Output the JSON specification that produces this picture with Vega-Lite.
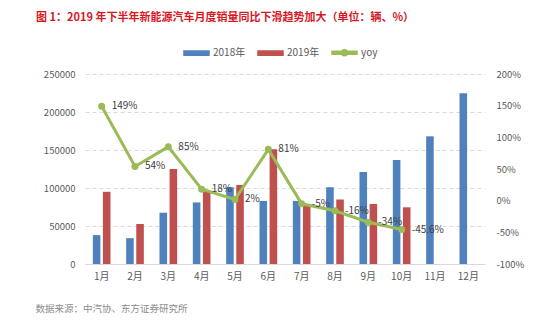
{
  "$schema": "https://vega.github.io/schema/vega-lite/v6.json",
  "width": 400,
  "height": 190,
  "autosize": {"type": "none"},
  "padding": {"left": 85, "top": 74, "right": 65, "bottom": 62},
  "background": "white",
  "config": {
    "font": "Noto Sans CJK SC",
    "locale": {"number": {"decimal": ".", "thousands": ",", "grouping": [3], "currency": ["", ""], "minus": "-"}},
    "view": {"stroke": null},
    "axis": {"labelColor": "#595959", "labelFontSize": 9.5, "ticks": false, "domain": false, "labelFont": "Noto Sans CJK SC"}
  },
  "title": {
    "text": "图 1：2019 年下半年新能源汽车月度销量同比下滑趋势加大（单位：辆、%）",
    "anchor": "start",
    "frame": "group",
    "dx": -49,
    "offset": 16,
    "color": "#D7181F",
    "fontSize": 11,
    "fontWeight": "bold",
    "font": "Noto Sans CJK SC"
  },
  "datasets": {
    "sales": [
      {"month": "1月", "series": "2018年", "sales": 38000},
      {"month": "1月", "series": "2019年", "sales": 95000},
      {"month": "2月", "series": "2018年", "sales": 34000},
      {"month": "2月", "series": "2019年", "sales": 52600},
      {"month": "3月", "series": "2018年", "sales": 67500},
      {"month": "3月", "series": "2019年", "sales": 125000},
      {"month": "4月", "series": "2018年", "sales": 81000},
      {"month": "4月", "series": "2019年", "sales": 96000},
      {"month": "5月", "series": "2018年", "sales": 101000},
      {"month": "5月", "series": "2019年", "sales": 104000},
      {"month": "6月", "series": "2018年", "sales": 83000},
      {"month": "6月", "series": "2019年", "sales": 151000},
      {"month": "7月", "series": "2018年", "sales": 83000},
      {"month": "7月", "series": "2019年", "sales": 79000},
      {"month": "8月", "series": "2018年", "sales": 101000},
      {"month": "8月", "series": "2019年", "sales": 85000},
      {"month": "9月", "series": "2018年", "sales": 121000},
      {"month": "9月", "series": "2019年", "sales": 79000},
      {"month": "10月", "series": "2018年", "sales": 137000},
      {"month": "10月", "series": "2019年", "sales": 74600},
      {"month": "11月", "series": "2018年", "sales": 168000},
      {"month": "12月", "series": "2018年", "sales": 224600}
    ],
    "yoy": [
      {"month": "1月", "series": "yoy", "yoy": 1.49},
      {"month": "2月", "series": "yoy", "yoy": 0.54},
      {"month": "3月", "series": "yoy", "yoy": 0.85},
      {"month": "4月", "series": "yoy", "yoy": 0.18},
      {"month": "5月", "series": "yoy", "yoy": 0.02},
      {"month": "6月", "series": "yoy", "yoy": 0.81},
      {"month": "7月", "series": "yoy", "yoy": -0.05},
      {"month": "8月", "series": "yoy", "yoy": -0.16},
      {"month": "9月", "series": "yoy", "yoy": -0.34},
      {"month": "10月", "series": "yoy", "yoy": -0.456}
    ]
  },
  "layer": [
    {
      "data": {"name": "sales"},
      "mark": {"type": "bar"},
      "encoding": {
        "x": {
          "field": "month", "type": "ordinal",
          "sort": ["1月","2月","3月","4月","5月","6月","7月","8月","9月","10月","11月","12月"],
          "scale": {"paddingInner": 0.47, "paddingOuter": 0.235},
          "axis": {
            "labelAngle": 0, "labelFontSize": 10, "labelPadding": 7,
            "domain": true, "domainColor": "#d9d9d9", "domainWidth": 1,
            "title": "数据来源：中汽协、东方证券研究所",
            "titleX": -50, "titleY": 44, "titleAlign": "left", "titleBaseline": "middle",
            "titleAnchor": null, "titleFontSize": 9.5, "titleFontWeight": "normal", "titleColor": "#8c8c8c"
          }
        },
        "xOffset": {"field": "series", "scale": {"paddingInner": 0.25}},
        "y": {
          "field": "sales", "type": "quantitative",
          "scale": {"domain": [0, 250000], "nice": false},
          "axis": {
            "title": null, "values": [0, 50000, 100000, 150000, 200000, 250000], "format": "d",
            "labelPadding": 10, "grid": true, "gridColor": "#d9d9d9", "gridDash": [4, 3]
          }
        },
        "color": {
          "field": "series", "type": "nominal",
          "scale": {"domain": ["2018年", "2019年", "yoy"], "range": ["#4F81BD", "#C0504D", "#9BBB59"]},
          "legend": {
            "orient": "none", "legendX": 98, "legendY": -35, "direction": "horizontal", "title": null,
            "labelFontSize": 10, "labelColor": "#595959", "labelOffset": 3, "columnPadding": 9,
            "symbolSize": 625,
            "symbolType": "M-1,-0.17L1,-0.17L1,0.17L-1,0.17Z",
            "encode": {
              "symbols": {
                "update": {
                  "fill": {"scale": "color", "field": "value"},
                  "stroke": {"value": "transparent"},
                  "shape": {"signal": "datum.value === 'yoy' ? 'M-1,-0.12L1,-0.12L1,0.12L-1,0.12Z M-0.24,0 A0.24,0.24 0 1,1 0.24,0 A0.24,0.24 0 1,1 -0.24,0Z' : 'M-1,-0.17L1,-0.17L1,0.17L-1,0.17Z'"}
                }
              }
            }
          }
        }
      }
    },
    {
      "data": {"name": "yoy"},
      "encoding": {
        "x": {
          "field": "month", "type": "ordinal",
          "sort": ["1月","2月","3月","4月","5月","6月","7月","8月","9月","10月","11月","12月"]
        },
        "y": {
          "field": "yoy", "type": "quantitative",
          "scale": {"domain": [-1, 2], "nice": false},
          "axis": {
            "orient": "right", "title": null, "format": ".0%",
            "values": [-1, -0.5, 0, 0.5, 1, 1.5, 2], "labelPadding": 11, "grid": false
          }
        }
      },
      "layer": [
        {
          "mark": {"type": "line", "strokeWidth": 3, "point": {"filled": true, "size": 50}},
          "encoding": {"color": {"field": "series", "type": "nominal"}}
        },
        {
          "mark": {"type": "text", "align": "left", "baseline": "middle", "dx": 10, "fontSize": 10, "color": "#404040"},
          "encoding": {"text": {"field": "yoy", "type": "quantitative", "format": ".1~%"}}
        }
      ]
    }
  ],
  "resolve": {"scale": {"y": "independent"}}
}
